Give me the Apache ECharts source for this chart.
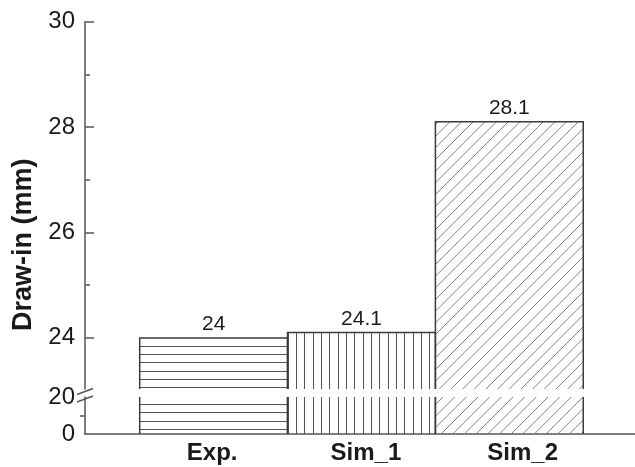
<!DOCTYPE html>
<html>
<head>
<meta charset="utf-8">
<script src="https://cdn.jsdelivr.net/npm/echarts@6/dist/echarts.min.js"></script>
<style>
  html, body { margin: 0; padding: 0; background: #fff; }
  #chart { width: 635px; height: 467px; }
</style>
</head>
<body>
<div id="chart"></div>
<script>
// Draw-in measured in experiment and two simulations (mm)
const categories = ['Exp.', 'Sim_1', 'Sim_2'];
const drawIn = [24, 24.1, 28.1];
// fill style of each bar: horizontal, vertical and diagonal hatching
const hatchKinds = ['horizontal', 'vertical', 'diagonal'];

// broken value axis: lower segment 0–20, upper segment from the break to 30
const lowerMin = 0, lowerMax = 20, lowerStep = 20;
const upperTickMin = 24, upperMax = 30, upperStep = 2;
const upperBreakMin = 23.03;

// category label anchors on the x axis (slightly wider spread than the bars)
const labelAnchors = [0.99, 2.03, 3.09];

const FONT = "'Liberation Sans', Arial, Helvetica, sans-serif";
const INK = '#1a1a1a';
const AXIS = '#555';
const EDGE = '#3a3a3a';

function makeHatch(kind) {
  const c = document.createElement('canvas');
  const ctx = c.getContext('2d');
  if (kind === 'diagonal') {
    const s = 35;
    c.width = s; c.height = s;
    ctx.strokeStyle = '#808080';
    ctx.lineWidth = 1;
    const step = s / 3;
    for (let k = -3; k <= 6; k++) {
      const d = k * step;
      ctx.beginPath();
      ctx.moveTo(d, 0);
      ctx.lineTo(d - s, s);
      ctx.stroke();
    }
  } else {
    const s = 25;
    c.width = s; c.height = s;
    ctx.strokeStyle = '#555';
    ctx.lineWidth = 1;
    const off = kind === 'horizontal' ? 4 : 4.4;
    for (let k = 0; k < 3; k++) {
      const p = Math.round(off + k * s / 3) + 0.5;
      ctx.beginPath();
      if (kind === 'horizontal') { ctx.moveTo(0, p); ctx.lineTo(s, p); }
      else { ctx.moveTo(p, 0); ctx.lineTo(p, s); }
      ctx.stroke();
    }
  }
  return { image: c, repeat: 'repeat' };
}
const hatches = hatchKinds.map(makeHatch);

const barData = drawIn.map((v, i) => [i + 1, v, i]);

function renderUpper(params, api) {
  const i = api.value(0), v = api.value(1), k = api.value(2);
  const cs = params.coordSys;
  const bottom = cs.y + cs.height;
  const l = api.coord([i - 0.5, v]);
  const r = api.coord([i + 0.5, v]);
  const top = Math.max(l[1], cs.y);
  return {
    type: 'group',
    children: [
      { type: 'rect', shape: { x: l[0], y: top, width: r[0] - l[0], height: bottom - top },
        style: { fill: hatches[k] } },
      { type: 'polyline', shape: { points: [[l[0], bottom], [l[0], top], [r[0], top], [r[0], bottom]] },
        style: { fill: null, stroke: EDGE, lineWidth: 1.5 } },
      { type: 'text', x: (l[0] + r[0]) / 2, y: top - 3,
        style: { text: String(v), align: 'center', verticalAlign: 'bottom',
                 font: '21px ' + FONT, fill: INK } }
    ]
  };
}

function renderLower(params, api) {
  const i = api.value(0), v = api.value(1), k = api.value(2);
  const cs = params.coordSys;
  const base = api.coord([i, lowerMin])[1];
  const l = api.coord([i - 0.5, v]);
  const r = api.coord([i + 0.5, v]);
  const top = Math.max(l[1], cs.y);
  return {
    type: 'group',
    children: [
      { type: 'rect', shape: { x: l[0], y: top, width: r[0] - l[0], height: base - top },
        style: { fill: hatches[k] } },
      { type: 'line', shape: { x1: l[0], y1: top, x2: l[0], y2: base },
        style: { stroke: EDGE, lineWidth: 1.5 } },
      { type: 'line', shape: { x1: r[0], y1: top, x2: r[0], y2: base },
        style: { stroke: EDGE, lineWidth: 1.5 } }
    ]
  };
}

const xMin = 0.13, xMax = 3.85;
function xAxisBase(gridIndex, show) {
  return {
    type: 'value', gridIndex, min: xMin, max: xMax, show,
    splitLine: { show: false }
  };
}

const chart = echarts.init(document.getElementById('chart'), null, { renderer: 'canvas' });

chart.setOption({
  animation: false,
  backgroundColor: '#fff',
  grid: [
    { left: 85, right: 0, top: 21.7, height: 367.3 },  // bars above the break
    { left: 85, right: 0, top: 21.7, height: 316 },    // ticks and labels 24–30
    { left: 85, right: 0, top: 397, height: 37 }       // segment 0–20
  ],
  xAxis: [
    xAxisBase(0, false),
    xAxisBase(1, false),
    Object.assign(xAxisBase(2, true), {
      axisLine: { show: true, lineStyle: { color: AXIS, width: 1.5 } },
      axisTick: { show: false },
      axisLabel: {
        customValues: labelAnchors,
        formatter: (v) => {
          const idx = labelAnchors.findIndex((a) => Math.abs(a - v) < 1e-6);
          return idx >= 0 ? categories[idx] : '';
        },
        fontFamily: FONT, fontSize: 24, fontWeight: 'bold', color: INK, margin: 7
      }
    })
  ],
  yAxis: [
    {
      type: 'value', gridIndex: 0, min: upperBreakMin, max: upperMax,
      axisLine: { show: true, lineStyle: { color: AXIS, width: 1.5 } },
      axisTick: { show: false }, axisLabel: { show: false }, splitLine: { show: false }
    },
    {
      type: 'value', gridIndex: 1, min: upperTickMin, max: upperMax, interval: upperStep,
      axisLine: { show: false },
      axisTick: { show: true, inside: true, length: 9, lineStyle: { color: AXIS, width: 1.5 } },
      minorTick: { show: true, splitNumber: 2, length: 5, lineStyle: { color: AXIS, width: 1.5 } },
      axisLabel: { fontFamily: FONT, fontSize: 24, color: INK, margin: 10 },
      splitLine: { show: false }
    },
    {
      type: 'value', gridIndex: 2, min: lowerMin, max: lowerMax, interval: lowerStep,
      axisLine: { show: true, lineStyle: { color: AXIS, width: 1.5 } },
      axisTick: { show: false },
      minorTick: { show: true, splitNumber: 2, length: 5, lineStyle: { color: AXIS, width: 1.5 } },
      axisLabel: { fontFamily: FONT, fontSize: 24, color: INK, margin: 10 },
      splitLine: { show: false }
    }
  ],
  series: [
    { type: 'custom', xAxisIndex: 0, yAxisIndex: 0, data: barData, renderItem: renderUpper, clip: false, z: 3 },
    { type: 'custom', xAxisIndex: 2, yAxisIndex: 2, data: barData, renderItem: renderLower, clip: false, z: 3 }
  ]
});

// axis break marks and the value-axis title
const ax = chart.convertToPixel({ xAxisIndex: 0 }, xMin);
const yTop = chart.convertToPixel({ yAxisIndex: 0 }, upperBreakMin);
const yBot = chart.convertToPixel({ yAxisIndex: 2 }, lowerMax);
const midY = (chart.convertToPixel({ yAxisIndex: 1 }, upperMax) + chart.convertToPixel({ yAxisIndex: 2 }, lowerMin)) / 2;

chart.setOption({
  graphic: [
    { type: 'line', shape: { x1: ax - 8, y1: yTop + 5.5, x2: ax + 8, y2: yTop - 0.5 },
      style: { stroke: AXIS, lineWidth: 1.5 }, z: 10 },
    { type: 'line', shape: { x1: ax - 8, y1: yBot + 5, x2: ax + 8, y2: yBot - 1 },
      style: { stroke: AXIS, lineWidth: 1.5 }, z: 10 },
    { type: 'text', x: 24, y: midY + 17, rotation: Math.PI / 2,
      style: { text: 'Draw-in (mm)', font: 'bold 27px ' + FONT, fill: INK,
               align: 'center', verticalAlign: 'middle' }, z: 10 }
  ]
});
</script>
</body>
</html>
